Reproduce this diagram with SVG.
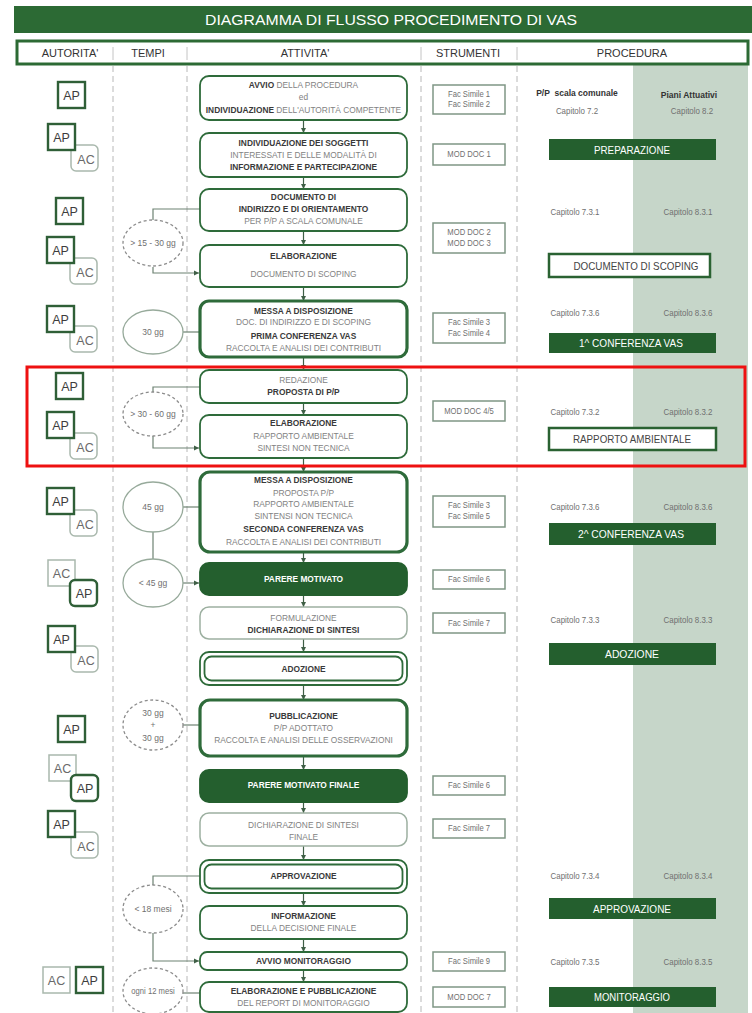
<svg xmlns="http://www.w3.org/2000/svg" width="752" height="1013" viewBox="0 0 752 1013">
<style>
text{font-family:"Liberation Sans",Arial,sans-serif}
.a{font-size:9.5px;text-anchor:middle;fill:#828282}
.b{font-weight:bold;fill:#3a3a3a}
.w{font-weight:bold;fill:#ffffff}
.box{fill:#fff;stroke:#2e6b3a;stroke-width:1.8}
.thick{stroke-width:3.2}
.light{stroke:#9db0a1;stroke-width:1.5}
.filled{fill:#245f2e;stroke:#245f2e}
.conn{stroke:#3f5f46;stroke-width:1.2;fill:none}
.econn{stroke:#6d8272;stroke-width:1.2;fill:none}
.col{stroke:#b8b8b8;stroke-width:1;stroke-dasharray:6 4}
.el{fill:#fff;stroke:#97aa9b;stroke-width:1.3}
.eld{fill:#fff;stroke:#8c8c8c;stroke-width:1.3;stroke-dasharray:3 2.5}
.et{font-size:8.5px;text-anchor:middle;fill:#707070}
.ap{fill:#fff;stroke:#2f5f37;stroke-width:2.4}
.ac{fill:#fff;stroke:#a9b8ad;stroke-width:1.5}
.apt{font-size:12.5px;text-anchor:middle;fill:#3d3d3d}
.act{font-size:12.5px;text-anchor:middle;fill:#6a6a6a}
.st{fill:#fff;stroke:#7f9685;stroke-width:1.5}
.stt{font-size:8.5px;text-anchor:middle;fill:#707070}
.cap{font-size:9px;text-anchor:middle;fill:#707070}
.pf{fill:#245f2e}
.po{fill:#fff;stroke:#2a6232;stroke-width:2.5}
.pl{font-size:11px;text-anchor:middle;fill:#ffffff}
.plo{font-size:11px;text-anchor:middle;fill:#444}
.hd{font-size:11px;text-anchor:middle;fill:#333}
</style>
<defs>
<marker id="ah" markerUnits="userSpaceOnUse" markerWidth="6" markerHeight="6" refX="5" refY="3" orient="auto">
<path d="M0,0.5 L5,3 L0,5.5 z" fill="#3f5f46"/>
</marker>
</defs>

<rect x="0" y="0" width="752" height="1013" fill="#fff"/>
<rect x="633" y="65" width="115" height="948" fill="#c6d6c9"/>

<g id="header">
<rect x="14" y="6" width="738" height="27" fill="#2c6a34"/>
<text x="391" y="25" font-size="15" fill="#fff" text-anchor="middle" textLength="372" lengthAdjust="spacingAndGlyphs">DIAGRAMMA DI FLUSSO PROCEDIMENTO DI VAS</text>
<rect x="17" y="41" width="731" height="23" fill="#fff" stroke="#2c6a34" stroke-width="3"/>
<g stroke="#c4c4c4" stroke-width="1">
<line x1="113" y1="47" x2="113" y2="60"/><line x1="187" y1="47" x2="187" y2="60"/>
<line x1="421" y1="47" x2="421" y2="60"/><line x1="517" y1="47" x2="517" y2="60"/>
</g>
<text class="hd" x="70" y="57">AUTORITA'</text>
<text class="hd" x="148" y="57">TEMPI</text>
<text class="hd" x="305" y="57">ATTIVITA'</text>
<text class="hd" x="468" y="57">STRUMENTI</text>
<text class="hd" x="632" y="57">PROCEDURA</text>
</g>

<g id="columns">
<line class="col" x1="113" y1="66" x2="113" y2="1013"/>
<line class="col" x1="187" y1="66" x2="187" y2="1013"/>
<line class="col" x1="421" y1="66" x2="421" y2="1013"/>
<line class="col" x1="517" y1="66" x2="517" y2="1013"/>
</g>

<g id="connectors">
<g class="conn" marker-end="url(#ah)">
<line x1="303.5" y1="120" x2="303.5" y2="133"/>
<line x1="303.5" y1="177" x2="303.5" y2="189"/>
<line x1="303.5" y1="231" x2="303.5" y2="245"/>
<line x1="303.5" y1="287" x2="303.5" y2="301"/>
<line x1="303.5" y1="357" x2="303.5" y2="370"/>
<line x1="303.5" y1="403" x2="303.5" y2="415"/>
<line x1="303.5" y1="458" x2="303.5" y2="472"/>
<line x1="303.5" y1="552" x2="303.5" y2="563"/>
<line x1="303.5" y1="595" x2="303.5" y2="607"/>
<line x1="303.5" y1="639" x2="303.5" y2="652"/>
<line x1="303.5" y1="685" x2="303.5" y2="700"/>
<line x1="303.5" y1="756" x2="303.5" y2="770"/>
<line x1="303.5" y1="802" x2="303.5" y2="813"/>
<line x1="303.5" y1="846" x2="303.5" y2="860"/>
<line x1="303.5" y1="893" x2="303.5" y2="906"/>
<line x1="303.5" y1="939" x2="303.5" y2="952"/>
<line x1="303.5" y1="970" x2="303.5" y2="982"/>
</g>
<path class="econn" d="M200,209 H153 V220"/>
<path class="econn" d="M153,267 V273 H199" marker-end="url(#ah)"/>
<line class="econn" x1="183" y1="332" x2="200" y2="332"/>
<path class="econn" d="M200,387 H153 V392"/>
<path class="econn" d="M153,436 V448 H199" marker-end="url(#ah)"/>
<line class="econn" x1="183" y1="507" x2="200" y2="507"/>
<line class="econn" x1="153" y1="532" x2="153" y2="559"/>
<line class="econn" x1="183" y1="583" x2="199" y2="583" marker-end="url(#ah)"/>
<line class="econn" x1="183" y1="725" x2="200" y2="725"/>
<path class="econn" d="M200,876 H153 V885"/>
<path class="econn" d="M153,933 V961 H199" marker-end="url(#ah)"/>
<line class="econn" x1="183" y1="993" x2="200" y2="993"/>
</g>

<!-- activities -->
<g id="a1"><rect class="box" x="200" y="76" width="207" height="44" rx="9"/>
<text class="a" transform="matrix(0.88 0 0 1 36.42 0)" x="303.5" y="88"><tspan class="b">AVVIO</tspan> DELLA PROCEDURA</text>
<text class="a" transform="matrix(0.88 0 0 1 36.42 0)" x="303.5" y="100">ed</text>
<text class="a" transform="matrix(0.88 0 0 1 36.42 0)" x="303.5" y="113"><tspan class="b">INDIVIDUAZIONE</tspan> DELL'AUTORITÀ COMPETENTE</text></g>
<g id="a2"><rect class="box" x="200" y="133" width="207" height="44" rx="9"/>
<text class="a b" transform="matrix(0.88 0 0 1 36.42 0)" x="303.5" y="146">INDIVIDUAZIONE DEI SOGGETTI</text>
<text class="a" transform="matrix(0.88 0 0 1 36.42 0)" x="303.5" y="158">INTERESSATI E DELLE MODALITÀ DI</text>
<text class="a b" transform="matrix(0.88 0 0 1 36.42 0)" x="303.5" y="170">INFORMAZIONE E PARTECIPAZIONE</text></g>
<g id="a3"><rect class="box" x="200" y="189" width="207" height="42" rx="9"/>
<text class="a b" transform="matrix(0.88 0 0 1 36.42 0)" x="303.5" y="200">DOCUMENTO DI</text>
<text class="a b" transform="matrix(0.88 0 0 1 36.42 0)" x="303.5" y="212">INDIRIZZO E DI ORIENTAMENTO</text>
<text class="a" transform="matrix(0.88 0 0 1 36.42 0)" x="303.5" y="224">PER P/P A SCALA COMUNALE</text></g>
<g id="a4"><rect class="box" x="200" y="245" width="207" height="42" rx="9"/>
<text class="a b" transform="matrix(0.88 0 0 1 36.42 0)" x="303.5" y="259">ELABORAZIONE</text>
<text class="a" transform="matrix(0.88 0 0 1 36.42 0)" x="303.5" y="277">DOCUMENTO DI SCOPING</text></g>
<g id="a5"><rect class="box thick" x="200" y="301" width="207" height="56" rx="9"/>
<text class="a b" transform="matrix(0.88 0 0 1 36.42 0)" x="303.5" y="314">MESSA A DISPOSIZIONE</text>
<text class="a" transform="matrix(0.88 0 0 1 36.42 0)" x="303.5" y="325">DOC. DI INDIRIZZO E DI SCOPING</text>
<text class="a b" transform="matrix(0.88 0 0 1 36.42 0)" x="303.5" y="339">PRIMA CONFERENZA VAS</text>
<text class="a" transform="matrix(0.88 0 0 1 36.42 0)" x="303.5" y="351">RACCOLTA E ANALISI DEI CONTRIBUTI</text></g>
<g id="a6"><rect class="box" x="200" y="370" width="207" height="33" rx="9"/>
<text class="a" transform="matrix(0.88 0 0 1 36.42 0)" x="303.5" y="383">REDAZIONE</text>
<text class="a b" transform="matrix(0.88 0 0 1 36.42 0)" x="303.5" y="395">PROPOSTA DI P/P</text></g>
<g id="a7"><rect class="box" x="200" y="415" width="207" height="43" rx="9"/>
<text class="a b" transform="matrix(0.88 0 0 1 36.42 0)" x="303.5" y="426">ELABORAZIONE</text>
<text class="a" transform="matrix(0.88 0 0 1 36.42 0)" x="303.5" y="439">RAPPORTO AMBIENTALE</text>
<text class="a" transform="matrix(0.88 0 0 1 36.42 0)" x="303.5" y="451">SINTESI NON TECNICA</text></g>
<g id="a8"><rect class="box thick" x="200" y="472" width="207" height="80" rx="10"/>
<text class="a b" transform="matrix(0.88 0 0 1 36.42 0)" x="303.5" y="483">MESSA A DISPOSIZIONE</text>
<text class="a" transform="matrix(0.88 0 0 1 36.42 0)" x="303.5" y="496">PROPOSTA P/P</text>
<text class="a" transform="matrix(0.88 0 0 1 36.42 0)" x="303.5" y="507">RAPPORTO AMBIENTALE</text>
<text class="a" transform="matrix(0.88 0 0 1 36.42 0)" x="303.5" y="519">SINTENSI NON TECNICA</text>
<text class="a b" transform="matrix(0.88 0 0 1 36.42 0)" x="303.5" y="532">SECONDA CONFERENZA VAS</text>
<text class="a" transform="matrix(0.88 0 0 1 36.42 0)" x="303.5" y="545">RACCOLTA E ANALISI DEI CONTRIBUTI</text></g>
<g id="a9"><rect class="box filled" x="200" y="563" width="207" height="32" rx="9"/>
<text class="a w" transform="matrix(0.88 0 0 1 36.42 0)" x="303.5" y="582">PARERE MOTIVATO</text></g>
<g id="a10"><rect class="box light" x="200" y="607" width="207" height="32" rx="9"/>
<text class="a" transform="matrix(0.88 0 0 1 36.42 0)" x="303.5" y="621">FORMULAZIONE</text>
<text class="a b" transform="matrix(0.88 0 0 1 36.42 0)" x="303.5" y="633">DICHIARAZIONE DI SINTESI</text></g>
<g id="a11"><rect class="box" x="200" y="652" width="207" height="33" rx="9"/>
<rect class="box" x="204.5" y="656.5" width="198" height="24" rx="7"/>
<text class="a b" transform="matrix(0.88 0 0 1 36.42 0)" x="303.5" y="672">ADOZIONE</text></g>
<g id="a12"><rect class="box thick" x="200" y="700" width="207" height="56" rx="10"/>
<text class="a b" transform="matrix(0.88 0 0 1 36.42 0)" x="303.5" y="719">PUBBLICAZIONE</text>
<text class="a" transform="matrix(0.88 0 0 1 36.42 0)" x="303.5" y="731">P/P ADOTTATO</text>
<text class="a" transform="matrix(0.88 0 0 1 36.42 0)" x="303.5" y="743">RACCOLTA E ANALISI DELLE OSSERVAZIONI</text></g>
<g id="a13"><rect class="box filled" x="200" y="770" width="207" height="32" rx="9"/>
<text class="a w" transform="matrix(0.88 0 0 1 36.42 0)" x="303.5" y="788">PARERE MOTIVATO FINALE</text></g>
<g id="a14"><rect class="box light" x="200" y="813" width="207" height="33" rx="9"/>
<text class="a" transform="matrix(0.88 0 0 1 36.42 0)" x="303.5" y="828">DICHIARAZIONE DI SINTESI</text>
<text class="a" transform="matrix(0.88 0 0 1 36.42 0)" x="303.5" y="840">FINALE</text></g>
<g id="a15"><rect class="box" x="200" y="860" width="207" height="33" rx="9"/>
<rect class="box" x="204.5" y="864.5" width="198" height="24" rx="7"/>
<text class="a b" transform="matrix(0.88 0 0 1 36.42 0)" x="303.5" y="879">APPROVAZIONE</text></g>
<g id="a16"><rect class="box" x="200" y="906" width="207" height="33" rx="9"/>
<text class="a b" transform="matrix(0.88 0 0 1 36.42 0)" x="303.5" y="919">INFORMAZIONE</text>
<text class="a" transform="matrix(0.88 0 0 1 36.42 0)" x="303.5" y="931">DELLA DECISIONE FINALE</text></g>
<g id="a17"><rect class="box" x="200" y="952" width="207" height="18" rx="7"/>
<text class="a b" transform="matrix(0.88 0 0 1 36.42 0)" x="303.5" y="964.5">AVVIO MONITORAGGIO</text></g>
<g id="a18"><rect class="box" x="200" y="982" width="207" height="30" rx="9"/>
<text class="a b" transform="matrix(0.88 0 0 1 36.42 0)" x="303.5" y="994">ELABORAZIONE E PUBBLICAZIONE</text>
<text class="a" transform="matrix(0.88 0 0 1 36.42 0)" x="303.5" y="1006">DEL REPORT DI MONITORAGGIO</text></g>

<!-- tempi -->
<g id="t1"><ellipse class="eld" cx="153" cy="243" rx="30" ry="23"/><text class="et" x="153" y="246">&gt; 15 - 30 gg</text></g>
<g id="t2"><ellipse class="el" cx="153" cy="332" rx="30" ry="22"/><text class="et" x="153" y="335">30 gg</text></g>
<g id="t3"><ellipse class="eld" cx="153" cy="414" rx="30" ry="22"/><text class="et" x="153" y="417">&gt; 30 - 60 gg</text></g>
<g id="t4"><ellipse class="el" cx="153" cy="507" rx="30" ry="25"/><text class="et" x="153" y="510">45 gg</text></g>
<g id="t5"><ellipse class="el" cx="153" cy="583" rx="30" ry="24"/><text class="et" x="153" y="586">&lt; 45 gg</text></g>
<g id="t6"><ellipse class="eld" cx="153" cy="725" rx="30" ry="25"/><text class="et" x="153" y="716">30 gg</text><text class="et" x="153" y="728">+</text><text class="et" x="153" y="741">30 gg</text></g>
<g id="t7"><ellipse class="eld" cx="153" cy="909" rx="30" ry="24"/><text class="et" x="153" y="912">&lt; 18 mesi</text></g>
<g id="t8"><ellipse class="eld" cx="153" cy="991" rx="30" ry="23"/><text class="et" x="153" y="994" transform="matrix(0.9 0 0 1 15.3 0)">ogni 12 mesi</text></g>

<!-- autorita -->
<g id="r1"><rect class="ap" x="58" y="82" width="27" height="26"/><text class="apt" x="71.5" y="99.5">AP</text></g>
<g id="r2"><rect class="ac" x="71" y="145" width="27" height="26" rx="5"/><text class="act" x="86" y="164">AC</text><rect class="ap" x="48" y="124" width="27" height="26"/><text class="apt" x="61.5" y="141.5">AP</text></g>
<g id="r3"><rect class="ap" x="56" y="198" width="27" height="26"/><text class="apt" x="69.5" y="215.5">AP</text></g>
<g id="r4"><rect class="ac" x="70" y="258" width="27" height="26" rx="5"/><text class="act" x="85" y="277">AC</text><rect class="ap" x="47" y="237" width="27" height="26"/><text class="apt" x="60.5" y="254.5">AP</text></g>
<g id="r5"><rect class="ac" x="70" y="326" width="27" height="26" rx="5"/><text class="act" x="85" y="345">AC</text><rect class="ap" x="47" y="306" width="27" height="26"/><text class="apt" x="60.5" y="323.5">AP</text></g>
<g id="r6"><rect class="ap" x="56" y="373" width="27" height="26"/><text class="apt" x="69.5" y="390.5">AP</text></g>
<g id="r7"><rect class="ac" x="70" y="433" width="27" height="26" rx="5"/><text class="act" x="85" y="452">AC</text><rect class="ap" x="47" y="412" width="27" height="26"/><text class="apt" x="60.5" y="429.5">AP</text></g>
<g id="r8"><rect class="ac" x="70" y="510" width="27" height="26" rx="5"/><text class="act" x="85" y="529">AC</text><rect class="ap" x="47" y="488" width="27" height="26"/><text class="apt" x="60.5" y="505.5">AP</text></g>
<g id="r9"><rect class="ac" x="48" y="560" width="27" height="26"/><text class="act" x="61.5" y="577.5">AC</text><rect class="ap" x="70" y="580" width="27" height="26" rx="5"/><text class="apt" x="84" y="598">AP</text></g>
<g id="r10"><rect class="ac" x="71" y="646" width="27" height="26" rx="5"/><text class="act" x="86" y="665">AC</text><rect class="ap" x="48" y="626" width="27" height="26"/><text class="apt" x="61.5" y="643.5">AP</text></g>
<g id="r12"><rect class="ap" x="58" y="716" width="27" height="26"/><text class="apt" x="71.5" y="733.5">AP</text></g>
<g id="r13"><rect class="ac" x="49" y="755" width="27" height="26"/><text class="act" x="62.5" y="772.5">AC</text><rect class="ap" x="71" y="775" width="27" height="26" rx="5"/><text class="apt" x="85" y="793">AP</text></g>
<g id="r14"><rect class="ac" x="71" y="832" width="27" height="26" rx="5"/><text class="act" x="86" y="851">AC</text><rect class="ap" x="48" y="811" width="27" height="26"/><text class="apt" x="61.5" y="828.5">AP</text></g>
<g id="r18"><rect class="ac" x="43" y="967" width="27" height="26"/><text class="act" x="56.5" y="984.5">AC</text><rect class="ap" x="76" y="967" width="27" height="26"/><text class="apt" x="89.5" y="984.5">AP</text></g>

<!-- strumenti -->
<g id="s1"><rect class="st" x="433" y="85" width="72" height="29"/><text class="stt" transform="matrix(0.9 0 0 1 46.9 0)" x="469" y="97">Fac Simile 1</text><text class="stt" transform="matrix(0.9 0 0 1 46.9 0)" x="469" y="107.5">Fac Simile 2</text></g>
<g id="s2"><rect class="st" x="433" y="144" width="72" height="21"/><text class="stt" transform="matrix(0.9 0 0 1 46.9 0)" x="469" y="157.5">MOD DOC 1</text></g>
<g id="s3"><rect class="st" x="433" y="223" width="72" height="30"/><text class="stt" transform="matrix(0.9 0 0 1 46.9 0)" x="469" y="235">MOD DOC 2</text><text class="stt" transform="matrix(0.9 0 0 1 46.9 0)" x="469" y="246">MOD DOC 3</text></g>
<g id="s4"><rect class="st" x="433" y="313" width="72" height="30"/><text class="stt" transform="matrix(0.9 0 0 1 46.9 0)" x="469" y="325">Fac Simile 3</text><text class="stt" transform="matrix(0.9 0 0 1 46.9 0)" x="469" y="336">Fac Simile 4</text></g>
<g id="s5"><rect class="st" x="433" y="401" width="72" height="20"/><text class="stt" transform="matrix(0.9 0 0 1 46.9 0)" x="469" y="414">MOD DOC 4/5</text></g>
<g id="s6"><rect class="st" x="433" y="496" width="72" height="31"/><text class="stt" transform="matrix(0.9 0 0 1 46.9 0)" x="469" y="508">Fac Simile 3</text><text class="stt" transform="matrix(0.9 0 0 1 46.9 0)" x="469" y="519">Fac Simile 5</text></g>
<g id="s7"><rect class="st" x="433" y="570" width="72" height="19"/><text class="stt" transform="matrix(0.9 0 0 1 46.9 0)" x="469" y="582.5">Fac Simile 6</text></g>
<g id="s8"><rect class="st" x="433" y="613" width="72" height="20"/><text class="stt" transform="matrix(0.9 0 0 1 46.9 0)" x="469" y="626">Fac Simile 7</text></g>
<g id="s9"><rect class="st" x="433" y="776" width="72" height="19"/><text class="stt" transform="matrix(0.9 0 0 1 46.9 0)" x="469" y="788.5">Fac Simile 6</text></g>
<g id="s10"><rect class="st" x="433" y="819" width="72" height="19"/><text class="stt" transform="matrix(0.9 0 0 1 46.9 0)" x="469" y="831.5">Fac Simile 7</text></g>
<g id="s11"><rect class="st" x="433" y="952" width="72" height="19"/><text class="stt" transform="matrix(0.9 0 0 1 46.9 0)" x="469" y="964.5">Fac Simile 9</text></g>
<g id="s12"><rect class="st" x="433" y="987" width="72" height="20"/><text class="stt" transform="matrix(0.9 0 0 1 46.9 0)" x="469" y="1000">MOD DOC 7</text></g>

<!-- procedura -->
<g id="p0">
<text x="577" y="96" font-size="8.5" font-weight="bold" fill="#333" text-anchor="middle" xml:space="preserve">P/P  scala comunale</text>
<text x="689" y="98" font-size="8.5" font-weight="bold" fill="#333" text-anchor="middle">Piani Attuativi</text>
<text class="cap" transform="matrix(0.88 0 0 1 69.24 0)" x="577" y="114">Capitolo 7.2</text>
<text class="cap" transform="matrix(0.88 0 0 1 83.04 0)" x="692" y="114">Capitolo 8.2</text>
</g>
<g id="p1"><rect class="pf" x="549" y="139" width="167" height="21"/><text class="pl" x="632" y="154" textLength="76" lengthAdjust="spacingAndGlyphs">PREPARAZIONE</text></g>
<g id="p2"><text class="cap" transform="matrix(0.88 0 0 1 69 0)" x="575" y="215">Capitolo 7.3.1</text><text class="cap" transform="matrix(0.88 0 0 1 82.56 0)" x="688" y="215">Capitolo 8.3.1</text></g>
<g id="p3"><rect class="po" x="549" y="254" width="161" height="23"/><text class="plo" x="636" y="270" textLength="125" lengthAdjust="spacingAndGlyphs">DOCUMENTO DI SCOPING</text></g>
<g id="p4"><text class="cap" transform="matrix(0.88 0 0 1 69 0)" x="575" y="316">Capitolo 7.3.6</text><text class="cap" transform="matrix(0.88 0 0 1 82.56 0)" x="688" y="316">Capitolo 8.3.6</text></g>
<g id="p5"><rect class="pf" x="549" y="333" width="167" height="20"/><text class="pl" x="631" y="347" textLength="104" lengthAdjust="spacingAndGlyphs">1^ CONFERENZA VAS</text></g>
<g id="p6"><text class="cap" transform="matrix(0.88 0 0 1 69 0)" x="575" y="415">Capitolo 7.3.2</text><text class="cap" transform="matrix(0.88 0 0 1 82.56 0)" x="688" y="415">Capitolo 8.3.2</text></g>
<g id="p7"><rect class="po" x="549" y="428" width="167" height="22"/><text class="plo" x="632" y="443" textLength="118" lengthAdjust="spacingAndGlyphs">RAPPORTO AMBIENTALE</text></g>
<g id="p8"><text class="cap" transform="matrix(0.88 0 0 1 69 0)" x="575" y="510">Capitolo 7.3.6</text><text class="cap" transform="matrix(0.88 0 0 1 82.56 0)" x="688" y="510">Capitolo 8.3.6</text></g>
<g id="p9"><rect class="pf" x="549" y="523" width="167" height="22"/><text class="pl" x="631" y="538" textLength="106" lengthAdjust="spacingAndGlyphs">2^ CONFERENZA VAS</text></g>
<g id="p10"><text class="cap" transform="matrix(0.88 0 0 1 69 0)" x="575" y="623">Capitolo 7.3.3</text><text class="cap" transform="matrix(0.88 0 0 1 82.56 0)" x="688" y="623">Capitolo 8.3.3</text></g>
<g id="p11"><rect class="pf" x="549" y="643" width="167" height="22"/><text class="pl" x="632" y="658" textLength="54" lengthAdjust="spacingAndGlyphs">ADOZIONE</text></g>
<g id="p12"><text class="cap" transform="matrix(0.88 0 0 1 69 0)" x="575" y="879">Capitolo 7.3.4</text><text class="cap" transform="matrix(0.88 0 0 1 82.56 0)" x="688" y="879">Capitolo 8.3.4</text></g>
<g id="p13"><rect class="pf" x="549" y="898" width="167" height="21"/><text class="pl" x="632" y="913" textLength="78" lengthAdjust="spacingAndGlyphs">APPROVAZIONE</text></g>
<g id="p14"><text class="cap" transform="matrix(0.88 0 0 1 69 0)" x="575" y="965">Capitolo 7.3.5</text><text class="cap" transform="matrix(0.88 0 0 1 82.56 0)" x="688" y="965">Capitolo 8.3.5</text></g>
<g id="p15"><rect class="pf" x="549" y="987" width="167" height="20"/><text class="pl" x="632" y="1001" textLength="76" lengthAdjust="spacingAndGlyphs">MONITORAGGIO</text></g>

<rect id="highlight" x="27" y="367" width="718" height="99" fill="none" stroke="#ee1111" stroke-width="3"/>
</svg>
